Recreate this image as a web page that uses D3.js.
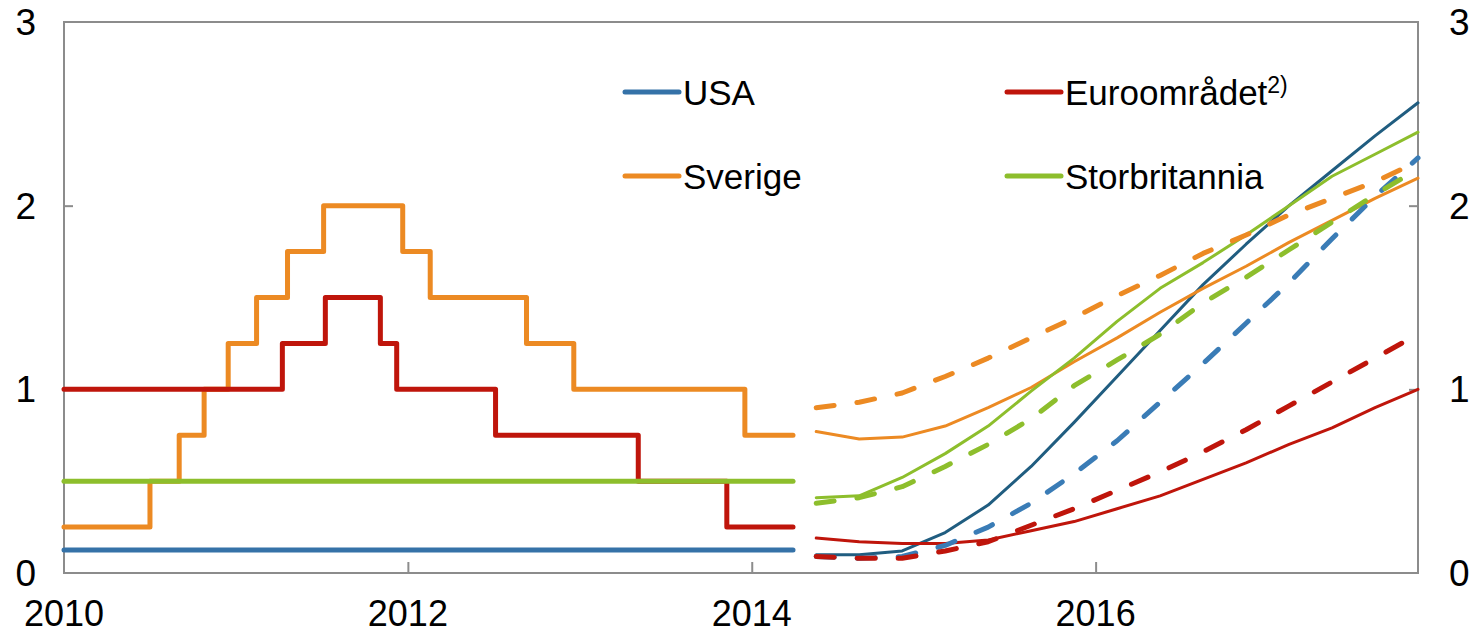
<!DOCTYPE html>
<html>
<head>
<meta charset="utf-8">
<script src="https://cdn.jsdelivr.net/npm/d3@7"></script>
<style>
  body { margin: 0; background: #fff; }
  svg text { font-family: "Liberation Sans", Arial, sans-serif; fill: #000; }
</style>
</head>
<body>
<div id="chart"></div>
<script>

// policy rates, historical (decimal year of change, rate)

var histEnd = 2014.24;

var usaHist = [[2010, 0.125]];
var ukHist = [[2010, 0.5]];
var euroHist = [[2010, 1.0], [2011.27, 1.25], [2011.52, 1.5], [2011.84, 1.25], [2011.935, 1.0],
                [2012.51, 0.75], [2013.34, 0.5], [2013.855, 0.25]];
var sweHist = [[2010, 0.25], [2010.5, 0.5], [2010.67, 0.75], [2010.815, 1.0], [2010.955, 1.25],
               [2011.12, 1.5], [2011.3, 1.75], [2011.51, 2.0], [2011.97, 1.75], [2012.13, 1.5],
               [2012.69, 1.25], [2012.965, 1.0], [2013.96, 0.75]];

// forward rates, quarterly

var fcstX = [2014.375, 2014.625, 2014.875, 2015.125, 2015.375, 2015.625, 2015.875, 2016.125,
             2016.375, 2016.625, 2016.875, 2017.125, 2017.375, 2017.625, 2017.875];

var usaNew  = [0.10, 0.10, 0.12, 0.22, 0.37, 0.58, 0.82, 1.07, 1.32, 1.57, 1.79, 2.00, 2.19, 2.38, 2.56];
var usaOld  = [0.09, 0.08, 0.09, 0.15, 0.25, 0.38, 0.54, 0.72, 0.93, 1.14, 1.36, 1.58, 1.82, 2.05, 2.26];
var euroNew = [0.19, 0.17, 0.16, 0.16, 0.18, 0.23, 0.28, 0.35, 0.42, 0.51, 0.60, 0.70, 0.79, 0.90, 1.00];
var euroOld = [0.09, 0.08, 0.08, 0.12, 0.17, 0.26, 0.35, 0.45, 0.55, 0.66, 0.78, 0.91, 1.04, 1.17, 1.30];
var sweNew  = [0.77, 0.73, 0.74, 0.80, 0.90, 1.01, 1.15, 1.28, 1.42, 1.55, 1.67, 1.80, 1.92, 2.04, 2.15];
var sweOld  = [0.90, 0.93, 0.98, 1.07, 1.17, 1.28, 1.39, 1.51, 1.62, 1.74, 1.84, 1.95, 2.04, 2.13, 2.24];
var ukNew   = [0.41, 0.42, 0.52, 0.65, 0.80, 0.99, 1.17, 1.37, 1.55, 1.69, 1.84, 2.00, 2.16, 2.28, 2.40];
var ukOld   = [0.38, 0.41, 0.47, 0.58, 0.70, 0.84, 1.02, 1.16, 1.30, 1.47, 1.61, 1.76, 1.91, 2.06, 2.20];

var xTicks = [2010, 2012, 2014, 2016];
var yTicks = [0, 1, 2, 3];

var legendNames = ["USA", "Euroområdet", "Sverige", "Storbritannia"];

// colours

var cBlue = "#3572a8",
    cBlueDark = "#205d80",
    cBlueDash = "#3a7cb6",
    cOrange = "#ec8a23",
    cRed = "#bf150b",
    cGreen = "#8dbe2c";

// sizes

var width = 1476,
    height = 633,
    marginLeft = 64,
    marginRight = 58,
    marginTop = 22,
    marginBottom = 60;

var widthAdj = width - marginLeft - marginRight,
    heightAdj = height - marginTop - marginBottom;

var xScale = d3.scaleLinear().domain([2010, 2017.875]).range([0, widthAdj]);
var yScale = d3.scaleLinear().domain([0, 3]).range([heightAdj, 0]);

var svg = d3.select("#chart")
  .append("svg")
    .attr("width", width)
    .attr("height", height)
  .append("g")
    .attr("transform", "translate(" + marginLeft + "," + marginTop + ")");

// frame and ticks

var axisCol = "#8c8c8c";

svg.append("rect")
  .attr("x", 0)
  .attr("y", 0)
  .attr("width", widthAdj)
  .attr("height", heightAdj)
  .attr("fill", "none")
  .attr("stroke", axisCol)
  .attr("stroke-width", 2);

svg.append("g")
  .attr("transform", "translate(0," + heightAdj + ")")
  .call(d3.axisTop(xScale).tickValues(xTicks.slice(1)).tickSize(11).tickFormat(""))
  .call(function(g) { g.select(".domain").remove(); })
  .selectAll("line").attr("stroke", axisCol).attr("stroke-width", 2);

svg.append("g")
  .call(d3.axisRight(yScale).tickValues([1, 2]).tickSize(9).tickFormat(""))
  .call(function(g) { g.select(".domain").remove(); })
  .selectAll("line").attr("stroke", axisCol).attr("stroke-width", 2);

svg.append("g")
  .attr("transform", "translate(" + widthAdj + ",0)")
  .call(d3.axisLeft(yScale).tickValues([1, 2]).tickSize(9).tickFormat(""))
  .call(function(g) { g.select(".domain").remove(); })
  .selectAll("line").attr("stroke", axisCol).attr("stroke-width", 2);

// tick labels

svg.selectAll(".xlab")
  .data(xTicks)
  .enter().append("text")
    .attr("x", function(d) { return xScale(d); })
    .attr("y", heightAdj + 53)
    .attr("text-anchor", "middle")
    .style("font-size", "36px")
    .text(function(d) { return d; });

svg.selectAll(".ylabL")
  .data(yTicks)
  .enter().append("text")
    .attr("x", -28)
    .attr("y", function(d) { return yScale(d) + 13; })
    .attr("text-anchor", "end")
    .style("font-size", "37px")
    .text(function(d) { return d; });

svg.selectAll(".ylabR")
  .data(yTicks)
  .enter().append("text")
    .attr("x", widthAdj + 31)
    .attr("y", function(d) { return yScale(d) + 13; })
    .attr("text-anchor", "start")
    .style("font-size", "37px")
    .text(function(d) { return d; });

// historical step lines

var stepLine = d3.line()
  .x(function(d) { return xScale(d[0]); })
  .y(function(d) { return yScale(d[1]); })
  .curve(d3.curveStepAfter);

function drawStep(arr, col) {
  var pts = arr.concat([[histEnd, arr[arr.length - 1][1]]]);
  svg.append("path")
    .attr("d", stepLine(pts))
    .attr("fill", "none")
    .attr("stroke", col)
    .attr("stroke-width", 5)
    .attr("stroke-linecap", "round")
    .attr("stroke-linejoin", "round");
}

drawStep(usaHist, cBlue);
drawStep(sweHist, cOrange);
drawStep(euroHist, cRed);
drawStep(ukHist, cGreen);

// forward curves

var fLine = d3.line()
  .x(function(d, i) { return xScale(fcstX[i]); })
  .y(function(d) { return yScale(d); });

function drawF(arr, col, dashed) {
  svg.append("path")
    .attr("d", fLine(arr))
    .attr("fill", "none")
    .attr("stroke", col)
    .attr("stroke-width", dashed ? 5 : 3)
    .attr("stroke-dasharray", dashed ? "18,23" : null)
    .attr("stroke-linecap", "round")
    .attr("stroke-linejoin", "round");
}

drawF(usaNew, cBlueDark, false);
drawF(sweNew, cOrange, false);
drawF(euroNew, cRed, false);
drawF(ukNew, cGreen, false);

drawF(usaOld, cBlueDash, true);
drawF(sweOld, cOrange, true);
drawF(ukOld, cGreen, true);
drawF(euroOld, cRed, true);

// legend

var legendCols = [cBlue, cRed, cOrange, cGreen];
var legendPos = [[559, 70], [941, 70], [559, 154], [941, 154]];

var leg = svg.selectAll(".legend")
  .data(legendNames)
  .enter().append("g")
    .attr("transform", function(d, i) { return "translate(" + legendPos[i][0] + "," + legendPos[i][1] + ")"; });

leg.append("line")
  .attr("x1", 2)
  .attr("x2", 56)
  .attr("stroke", function(d, i) { return legendCols[i]; })
  .attr("stroke-width", 5)
  .attr("stroke-linecap", "round");

var legText = leg.append("text")
  .attr("x", 60)
  .attr("y", 13)
  .style("font-size", "35px")
  .text(function(d) { return d; });

legText.filter(function(d) { return d == "Euroområdet"; })
  .append("tspan")
    .attr("dy", -12)
    .style("font-size", "23px")
    .text("2)");

</script>
</body>
</html>
